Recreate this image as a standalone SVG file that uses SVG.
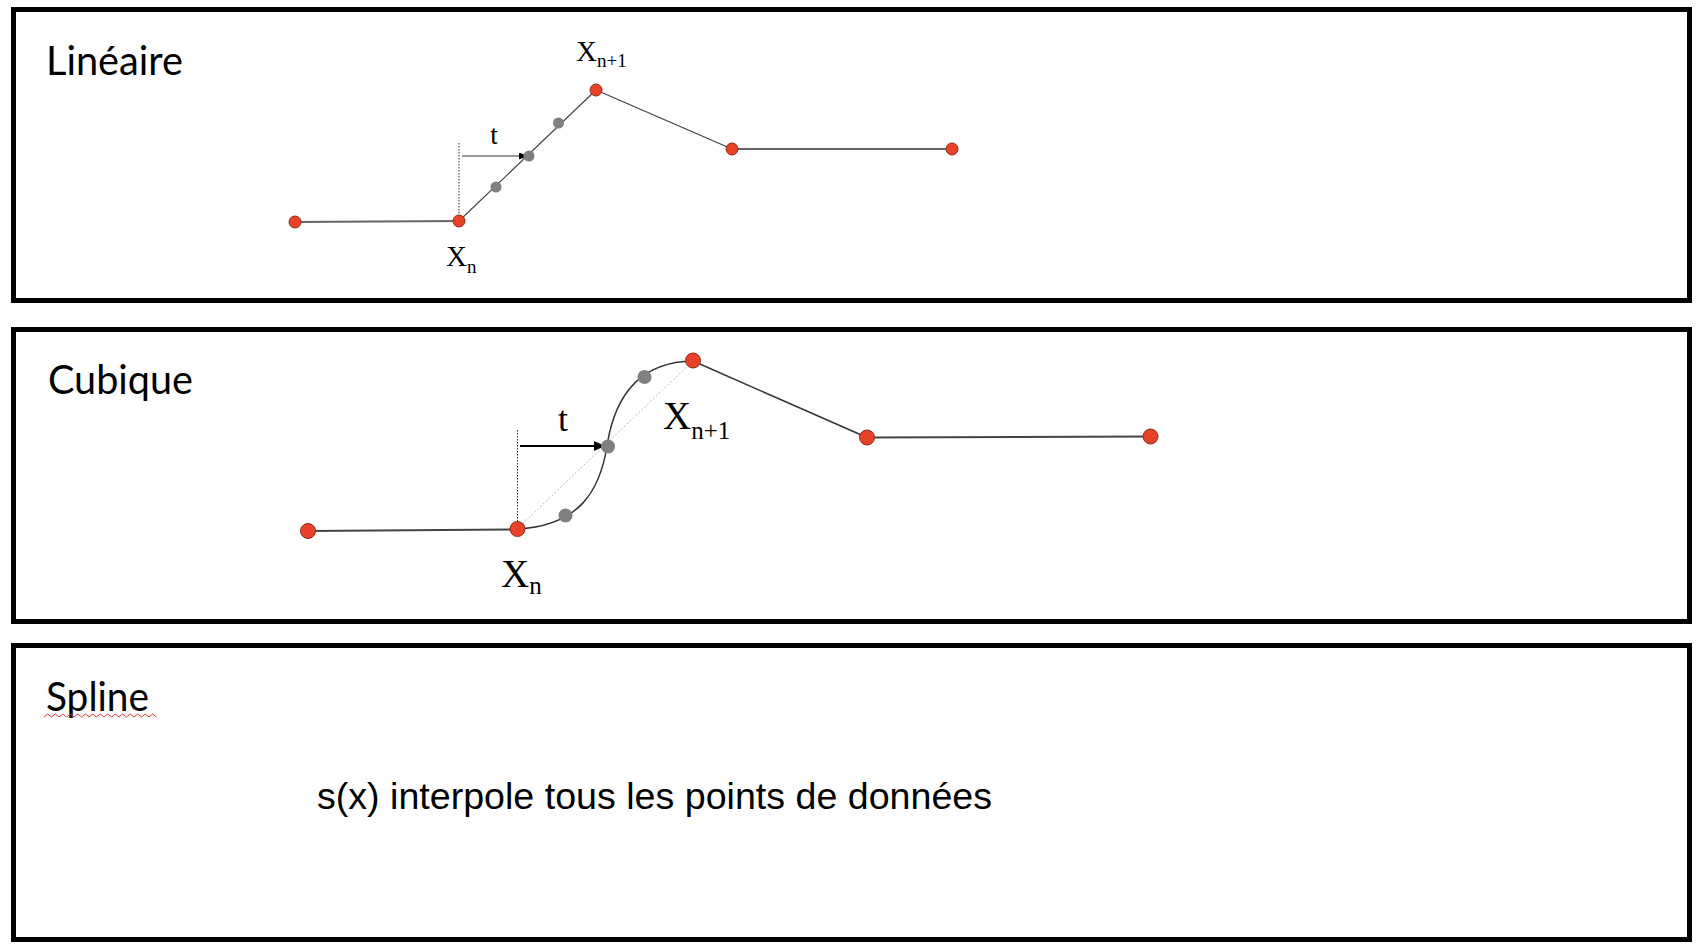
<svg xmlns="http://www.w3.org/2000/svg" width="1702" height="952" viewBox="0 0 1702 952">
<style>
.panel{fill:#fff;stroke:#000;stroke-width:5}
.title{font-family:Lato,"Open Sans","Liberation Sans",sans-serif;font-size:40px;fill:#000}
.math{font-family:"Liberation Serif","DejaVu Serif",serif;fill:#000}
.body{font-family:"Liberation Sans",Arial,sans-serif;font-size:37px;fill:#000}
.red{fill:#E8432A;stroke:#8e2a12;stroke-width:1}
.gray{fill:#808080}
.hseg{stroke:#666;stroke-width:2;fill:none}
.dseg{stroke:#444;stroke-width:1.2;fill:none}
.dot{stroke:#333;stroke-width:1;stroke-dasharray:1.5 1.5;fill:none}
.chord{stroke:#b5b5b5;stroke-width:1;stroke-dasharray:2 2;fill:none}
</style>
<defs>
<marker id="ahS" markerUnits="userSpaceOnUse" markerWidth="9" markerHeight="7" refX="9" refY="3.5" orient="auto"><path d="M0,0 L9,3.5 L0,7 Z" fill="#000"/></marker>
<marker id="ahL" markerUnits="userSpaceOnUse" markerWidth="11" markerHeight="10" refX="11" refY="5" orient="auto"><path d="M0,0 L11,5 L0,10 Z" fill="#000"/></marker>
</defs>
<rect width="1702" height="952" fill="#fff"/>

<g id="panel-lineaire">
<rect class="panel" x="13.5" y="9.5" width="1676" height="291"/>
<text class="title" x="46" y="75" textLength="137" lengthAdjust="spacingAndGlyphs">Linéaire</text>
</g>
<g id="panel-cubique">
<rect class="panel" x="13.5" y="329.5" width="1676" height="292"/>
<text class="title" x="48" y="394" textLength="145" lengthAdjust="spacingAndGlyphs">Cubique</text>
</g>
<g id="panel-spline">
<rect class="panel" x="13.5" y="645.5" width="1676" height="294"/>
<text class="title" x="46" y="711" textLength="103" lengthAdjust="spacingAndGlyphs">Spline</text>
<path d="M44,717 l3.75,-3 l3.75,3 l3.75,-3 l3.75,3 l3.75,-3 l3.75,3 l3.75,-3 l3.75,3 l3.75,-3 l3.75,3 l3.75,-3 l3.75,3 l3.75,-3 l3.75,3 l3.75,-3 l3.75,3 l3.75,-3 l3.75,3 l3.75,-3 l3.75,3 l3.75,-3 l3.75,3 l3.75,-3 l3.75,3 l3.75,-3 l3.75,3 l3.75,-3 l3.75,3 l3.75,-3 l3.75,3" fill="none" stroke="#e53a2a" stroke-width="1"/>
<text class="body" x="317" y="809" textLength="675" lengthAdjust="spacingAndGlyphs">s(x) interpole tous les points de données</text>
</g>

<g id="connectors">
<!-- linear -->
<line class="hseg" x1="295" y1="222" x2="459" y2="221"/>
<line class="dseg" x1="459" y1="221" x2="596" y2="90"/>
<line class="dseg" x1="596" y1="90" x2="732" y2="149"/>
<line class="hseg" x1="732" y1="149" x2="952" y2="149"/>
<line class="dot" x1="459" y1="143" x2="459" y2="216"/>
<line x1="462" y1="156" x2="528" y2="156" stroke="#777" stroke-width="1.6" marker-end="url(#ahS)"/>
<!-- cubic -->
<line x1="308" y1="531" x2="517" y2="529.5" stroke="#444" stroke-width="2"/>
<line class="chord" x1="517" y1="529" x2="693" y2="361"/>
<path d="M517,529 C580,526 600,490 607,446 C614,400 636,362 693,361" fill="none" stroke="#333" stroke-width="1.5"/>
<line x1="693" y1="361" x2="867" y2="437.5" stroke="#333" stroke-width="1.5"/>
<line x1="867" y1="437.5" x2="1150" y2="436.5" stroke="#444" stroke-width="2"/>
<line class="dot" x1="517.5" y1="430" x2="517.5" y2="522"/>
<line x1="520" y1="446" x2="605" y2="446" stroke="#000" stroke-width="2" marker-end="url(#ahL)"/>
</g>

<g id="nodes-lineaire">
<g id="l-p0"><circle class="red" cx="295" cy="222" r="6"/></g>
<g id="l-xn"><circle class="red" cx="459" cy="221" r="6"/>
<text class="math" x="446" y="266" font-size="29">X<tspan font-size="19" dy="7">n</tspan></text></g>
<g id="l-g1"><circle class="gray" cx="496" cy="187" r="5.5"/></g>
<g id="l-g2"><circle class="gray" cx="529" cy="156" r="5.5"/></g>
<g id="l-g3"><circle class="gray" cx="558.5" cy="123" r="5.5"/></g>
<g id="l-t"><text class="math" x="494" y="144" font-size="27" text-anchor="middle">t</text></g>
<g id="l-xn1"><circle class="red" cx="596" cy="90" r="6"/>
<text class="math" x="576" y="61" font-size="29">X<tspan font-size="19" dy="6">n+1</tspan></text></g>
<g id="l-p3"><circle class="red" cx="732" cy="149" r="6"/></g>
<g id="l-p4"><circle class="red" cx="952" cy="149" r="6"/></g>
</g>

<g id="nodes-cubique">
<g id="c-p0"><circle class="red" cx="308" cy="531" r="7.5"/></g>
<g id="c-xn"><circle class="red" cx="517.5" cy="529" r="7.5"/>
<text class="math" x="501" y="587" font-size="39">X<tspan font-size="25" dy="7">n</tspan></text></g>
<g id="c-g1"><circle class="gray" cx="565.5" cy="515.5" r="7"/></g>
<g id="c-g2"><circle class="gray" cx="608" cy="446.5" r="7"/></g>
<g id="c-g3"><circle class="gray" cx="644.5" cy="377" r="7"/></g>
<g id="c-t"><text class="math" x="563" y="431" font-size="36" text-anchor="middle">t</text></g>
<g id="c-xn1"><circle class="red" cx="693" cy="360.5" r="7.5"/>
<text class="math" x="663" y="429" font-size="39">X<tspan font-size="25" dy="10">n+1</tspan></text></g>
<g id="c-p3"><circle class="red" cx="867" cy="437.5" r="7.5"/></g>
<g id="c-p4"><circle class="red" cx="1150.5" cy="436.5" r="7.5"/></g>
</g>
</svg>
